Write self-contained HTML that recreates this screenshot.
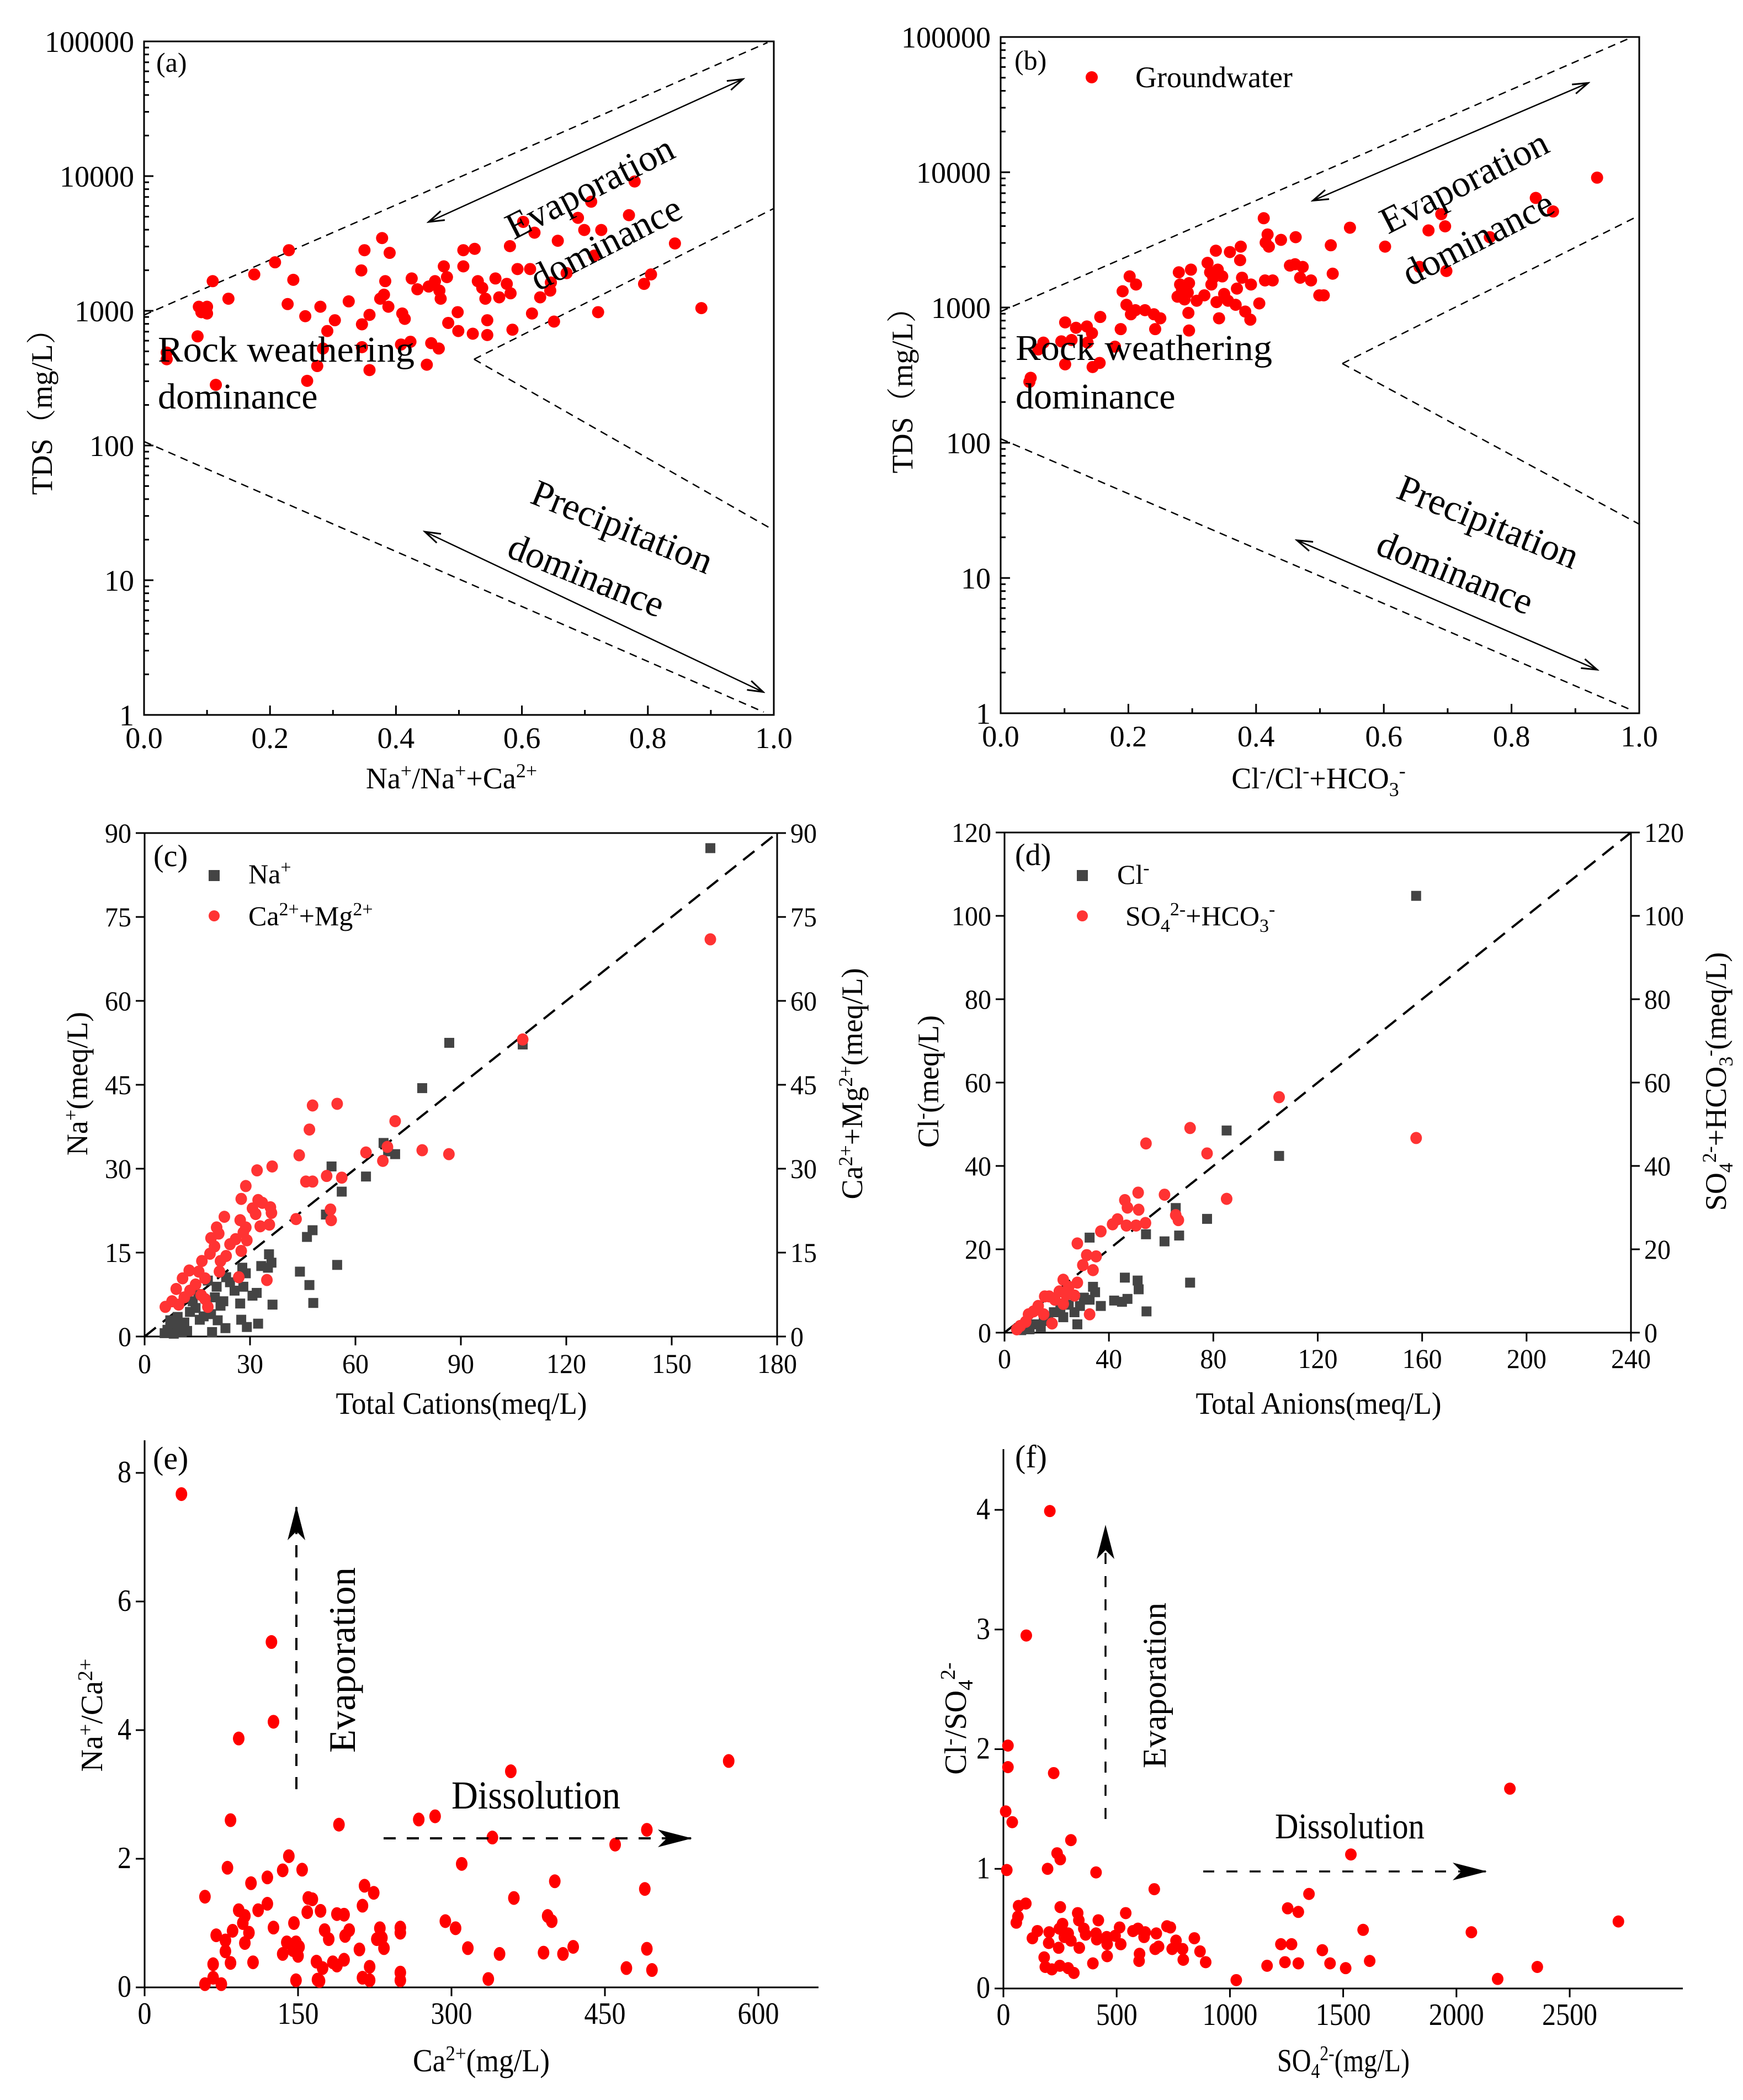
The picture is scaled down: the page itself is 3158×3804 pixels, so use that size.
<!DOCTYPE html>
<html><head><meta charset="utf-8"><title>Hydrochemistry charts</title>
<style>
html,body{margin:0;padding:0;background:#fff;}
svg{display:block;}
svg text{font-family:"Liberation Serif","DejaVu Serif","Noto Serif CJK SC",serif;fill:#000;}
</style></head>
<body>
<svg id="chart" xmlns="http://www.w3.org/2000/svg" width="3158" height="3804" viewBox="0 0 3158 3804" font-family="Liberation Serif, DejaVu Serif, Noto Serif CJK SC, serif">
<defs>
<marker id="chev" markerWidth="34" markerHeight="24" refX="30" refY="12" orient="auto-start-reverse" markerUnits="userSpaceOnUse"><path d="M2,3 L30,12 L2,21" fill="none" stroke="#000" stroke-width="3"/></marker>
<marker id="stealth" markerWidth="64" markerHeight="40" refX="60" refY="20" orient="auto" markerUnits="userSpaceOnUse"><path d="M0,4 L62,20 L0,36 L16,20 Z" fill="#000"/></marker>
</defs>
<rect x="0" y="0" width="3158" height="3804" fill="#fff"/>
<g id="layer"></g>

<!-- Panel a static text -->
<text x="283" y="130" font-size="50">(a)</text>
<text transform="translate(1068,338) rotate(-27)" y="24" text-anchor="middle" font-size="68">Evaporation</text>
<text transform="translate(1097,439) rotate(-27)" y="24" text-anchor="middle" font-size="68">dominance</text>
<text x="286" y="655" font-size="66" textLength="465" lengthAdjust="spacingAndGlyphs">Rock weathering</text>
<text x="286" y="740" font-size="66">dominance</text>
<text transform="translate(1128,953) rotate(22)" y="24" text-anchor="middle" font-size="68">Precipitation</text>
<text transform="translate(1063,1041) rotate(22)" y="24" text-anchor="middle" font-size="68">dominance</text>
<text transform="translate(94,733) rotate(-90)" text-anchor="middle" font-size="54">TDS（mg/L）</text>
<text x="818" y="1428" text-anchor="middle" font-size="54">Na<tspan dy="-20" font-size="36">+</tspan><tspan dy="20">/Na</tspan><tspan dy="-20" font-size="36">+</tspan><tspan dy="20">+Ca</tspan><tspan dy="-20" font-size="36">2+</tspan></text>

<!-- Panel b static text -->
<text x="1838" y="126" font-size="50">(b)</text>
<circle cx="1978" cy="140" r="11" fill="#ff0000"/>
<text x="2057" y="158" font-size="54">Groundwater</text>
<text transform="translate(2652,328) rotate(-27)" y="24" text-anchor="middle" font-size="68">Evaporation</text>
<text transform="translate(2677,430) rotate(-27)" y="24" text-anchor="middle" font-size="68">dominance</text>
<text x="1840" y="652" font-size="66" textLength="465" lengthAdjust="spacingAndGlyphs">Rock weathering</text>
<text x="1840" y="740" font-size="66">dominance</text>
<text transform="translate(2697,944) rotate(22)" y="24" text-anchor="middle" font-size="68">Precipitation</text>
<text transform="translate(2637,1036) rotate(22)" y="24" text-anchor="middle" font-size="68">dominance</text>
<text transform="translate(1653,694) rotate(-90)" text-anchor="middle" font-size="54">TDS（mg/L）</text>
<text x="2389" y="1428" text-anchor="middle" font-size="54">Cl<tspan dy="-20" font-size="36">-</tspan><tspan dy="20">/Cl</tspan><tspan dy="-20" font-size="36">-</tspan><tspan dy="20">+HCO</tspan><tspan dy="14" font-size="36">3</tspan><tspan dy="-34" font-size="36">-</tspan></text>

<!-- Panel c static text -->
<text x="278" y="1569" font-size="56">(c)</text>
<rect x="378" y="1576" width="20" height="20" fill="#444"/>
<text x="450" y="1600" font-size="50">Na<tspan dy="-18" font-size="34">+</tspan></text>
<circle cx="388" cy="1659" r="10" fill="#ff3333"/>
<text x="450" y="1676" font-size="50">Ca<tspan dy="-18" font-size="34">2+</tspan><tspan dy="18">+Mg</tspan><tspan dy="-18" font-size="34">2+</tspan></text>
<text transform="translate(158,1963) rotate(-90)" text-anchor="middle" font-size="54">Na<tspan dy="-18" font-size="36">+</tspan><tspan dy="18">(meq/L)</tspan></text>
<text transform="translate(1562,1963) rotate(-90)" text-anchor="middle" font-size="54">Ca<tspan dy="-18" font-size="36">2+</tspan><tspan dy="18">+Mg</tspan><tspan dy="-18" font-size="36">2+</tspan><tspan dy="18">(meq/L)</tspan></text>
<text x="836" y="2561" text-anchor="middle" font-size="56" textLength="455" lengthAdjust="spacingAndGlyphs">Total Cations(meq/L)</text>

<!-- Panel d static text -->
<text x="1839" y="1567" font-size="56">(d)</text>
<rect x="1951" y="1576" width="20" height="20" fill="#444"/>
<text x="2024" y="1601" font-size="50">Cl<tspan dy="-18" font-size="34">-</tspan></text>
<circle cx="1961" cy="1659" r="10" fill="#ff3333"/>
<text x="2039" y="1676" font-size="50">SO<tspan dy="12" font-size="34">4</tspan><tspan dy="-30" font-size="34">2-</tspan><tspan dy="18">+HCO</tspan><tspan dy="12" font-size="34">3</tspan><tspan dy="-30" font-size="34">-</tspan></text>
<text transform="translate(1700,1959) rotate(-90)" text-anchor="middle" font-size="54">Cl<tspan dy="-18" font-size="36">-</tspan><tspan dy="18">(meq/L)</tspan></text>
<text transform="translate(3127,1959) rotate(-90)" text-anchor="middle" font-size="54">SO<tspan dy="12" font-size="36">4</tspan><tspan dy="-30" font-size="36">2-</tspan><tspan dy="18">+HCO</tspan><tspan dy="12" font-size="36">3</tspan><tspan dy="-30" font-size="36">-</tspan><tspan dy="18">(meq/L)</tspan></text>
<text x="2389" y="2561" text-anchor="middle" font-size="56" textLength="445" lengthAdjust="spacingAndGlyphs">Total Anions(meq/L)</text>

<!-- Panel e static text -->
<text x="277" y="2661" font-size="58">(e)</text>
<text transform="translate(185,3107) rotate(-90)" text-anchor="middle" font-size="56">Na<tspan dy="-18" font-size="38">+</tspan><tspan dy="18">/Ca</tspan><tspan dy="-18" font-size="38">2+</tspan></text>
<text x="872" y="3752" text-anchor="middle" font-size="58" textLength="248" lengthAdjust="spacingAndGlyphs">Ca<tspan dy="-20" font-size="38">2+</tspan><tspan dy="20">(mg/L)</tspan></text>
<text transform="translate(643,3007) rotate(-90)" text-anchor="middle" font-size="68" textLength="336" lengthAdjust="spacingAndGlyphs">Evaporation</text>
<text x="818" y="3276" font-size="72" textLength="306" lengthAdjust="spacingAndGlyphs">Dissolution</text>

<!-- Panel f static text -->
<text x="1839" y="2658" font-size="58">(f)</text>
<text transform="translate(1750,3113) rotate(-90)" text-anchor="middle" font-size="56">Cl<tspan dy="-18" font-size="38">-</tspan><tspan dy="18">/SO</tspan><tspan dy="12" font-size="38">4</tspan><tspan dy="-32" font-size="38">2-</tspan></text>
<text x="2434" y="3752" text-anchor="middle" font-size="58" textLength="240" lengthAdjust="spacingAndGlyphs">SO<tspan dy="12" font-size="38">4</tspan><tspan dy="-32" font-size="38">2-</tspan><tspan dy="20">(mg/L)</tspan></text>
<text transform="translate(2112,3053) rotate(-90)" text-anchor="middle" font-size="60" textLength="300" lengthAdjust="spacingAndGlyphs">Evaporation</text>
<text x="2310" y="3330" font-size="66" textLength="271" lengthAdjust="spacingAndGlyphs">Dissolution</text>
</svg>

<script>
// ---------- Panel (a) data ----------
const aRatio = [.036,.036,.085,.087,.091,.100,.100,.109,.114,.134,.175,.208,.228,.230,.237,.256,.259,.275,.280,.284,.291,.303,.325,.345,.346,.346,.350,.358,.358,.375,.378,.381,.383,.388,.390,.408,.410,.414,.423,.425,.434,.449,.452,.456,.462,.468,.469,.471,.476,.481,.483,.498,.499,.507,.507,.522,.525,.530,.537,.542,.545,.545,.558,.564,.576,.581,.582,.585,.593,.602,.613,.616,.620,.629,.645,.646,.651,.657,.671,.689,.699,.710,.715,.721,.726,.770,.779,.794,.805,.843,.885];
const aTDS = [437,490,646,1072,977,955,1072,1660,282,1230,1862,2291,1122,2818,1698,912,302,389,1072,525,708,851,1175,1995,794,537,2818,933,363,1230,3467,1318,1660,1072,2692,562,955,871,589,1738,1445,398,1514,575,1660,525,1413,1230,2138,1778,813,977,708,2138,2818,676,2884,1660,1479,1230,851,661,1738,1259,1585,3020,1349,724,2042,4571,2042,955,3802,1259,1413,1622,832,3311,1905,4898,3981,6457,2570,977,3981,5129,9120,1585,1862,3162,1047];
// ---------- Panel (b) data ----------
const bRatio = [.045,.047,.059,.067,.095,.101,.101,.111,.118,.135,.136,.143,.144,.155,.156,.179,.188,.191,.197,.202,.204,.211,.212,.226,.240,.242,.250,.279,.281,.277,.284,.288,.293,.295,.294,.295,.298,.307,.319,.324,.328,.330,.333,.337,.338,.340,.342,.347,.350,.356,.359,.368,.370,.375,.376,.378,.383,.391,.392,.405,.412,.414,.415,.418,.420,.426,.439,.453,.461,.462,.469,.473,.486,.499,.506,.517,.520,.547,.602,.656,.670,.690,.696,.698,.766,.838,.865,.934];
const bTDS = [282,302,490,550,562,776,380,575,708,724,550,646,363,389,851,513,692,1318,1047,1698,891,955,1479,955,891,692,832,1820,1479,1202,1349,1148,1288,1514,912,676,1905,1122,1230,2138,1820,1479,1660,2630,1096,1905,832,1698,1259,1122,2570,1047,1380,2239,2818,1660,933,813,1479,1072,4571,1585,3020,3467,2818,1585,3162,2042,2089,3311,1660,1995,1585,1230,1230,2884,1778,3890,2818,1995,3715,4898,3981,1862,3311,6457,5129,9120];
const gibbsTickValues = [1,10,100,1000,10000,100000];
const gibbsTickLabels = ['1','10','100','1000','10000','100000'];
const ratioTicks = [0,0.2,0.4,0.6,0.8,1.0];
const ratioTickLabels = ['0.0','0.2','0.4','0.6','0.8','1.0'];
// ---------- Panel (c) data ----------
const cTotalNa = [161,86.7,107.6,79,68,71.3,69.3,63,53.2,56.1,51.6,47.8,46.2,44.2,46.9,48,54.8,35.4,36.1,33.2,35.1,36.4,32.3,31.9,30.7,28.8,27.8,28.1,27.2,29.1,27.5,25.6,24.3,23.2,22.4,21.6,20.5,23,19.2,20.8,18.9,16.8,15.7,14.5,12.9,12.1,11.3,9.7,8.1,6.5,5.7,7.3,9.4,13.7,15.3,18,10.6,8.3,20];
const cNa = [87.3,52.5,52.2,44.4,34.6,32.6,33.1,28.6,30.4,25.9,21.8,19.0,17.8,11.6,9.2,6.0,12.8,14.7,13.2,12.6,12.3,5.7,2.3,7.8,7.3,11.3,12.3,8.9,5.9,1.7,3.0,8.2,9.7,10.6,6.3,5.5,8.9,1.5,0.8,2.9,4.0,3.6,3.0,5.1,4.4,1.0,2.5,2.1,1.5,1.2,0.6,2.9,3.5,6.3,7.6,10,0.8,0.5,7];
const cTotalCaMg = [161,107.6,86.6,79,71.3,69.1,67.8,63,54.8,47.8,46.9,44,45.9,47.8,51.8,56.1,52.9,53.1,43.1,36.3,32,28.8,27.5,32.3,33.5,35.8,36.1,30.7,31.6,35.5,32.9,27.2,28.8,28.1,29.1,25.9,24.3,22.7,20.5,21.1,18.9,19.9,18.6,21.6,23.2,27.5,26.8,34.8,21.3,16.3,15.4,17.2,12.7,10.8,14.5,12.9,9,11.3,16.1,17.2,18,7.8,5.9,9.7];
const cCaMg = [71,53.1,32.6,33.3,38.5,33.9,31.4,32.9,41.6,41.3,37,32.4,27.7,27.7,28.7,28.4,22.7,20.8,21,30.4,29.7,26.9,24.6,24.4,23.9,23.1,22.1,22.9,21.9,20,19.7,20.8,19.5,18.6,17.2,17.4,16.5,21.4,19.5,18.4,17.6,16.1,14.8,13.5,14.4,15.3,10.6,10.1,11.6,13.5,11.6,10.4,11.8,10.4,9.3,8.2,8.5,7,7.4,6.7,5.3,6.3,5.3,5.7];
const cXTicks = [0,30,60,90,120,150,180];
const cYTicks = [0,15,30,45,60,75,90];
// ---------- Panel (d) data ----------
const dTotalCl = [157.7,85.1,105.2,77.6,65.6,66.9,61.3,54.2,71.1,54.4,32.6,46.1,51,51.4,47.1,45,42,36.9,33.9,34.7,32.6,30.4,27.9,26.8,24.6,22.5,21.4,18.9,16.7,13.9,11.8,9.6,6.4,15,28.9];
const dCl = [104.8,48.5,42.4,27.3,29.9,23.3,21.9,23.6,12,5.1,22.8,13.2,12.5,10.4,8.1,7.4,7.7,6.4,11,9.7,7.9,8.4,2,4.9,6.7,3.7,5.9,4.9,3.3,1.3,2,0.8,0.6,2.8,6.4];
const dTotalSH = [157.7,105.2,71.1,77.6,85.1,54.2,51.2,46.1,47.1,51.4,61.3,65.6,66.6,54,50.4,46.7,43.3,41.4,36.9,27.9,35.1,31.5,30,33.9,32.6,27.9,22.5,24.6,21,19.3,17.1,15.4,18.2,12.9,11.1,9.2,8.1,6,4.7,26.8,22.5,15,23.6];
const dSH = [46.7,56.5,49.1,43,32.1,45.4,33.6,31.8,30,29.5,33.1,28.2,27,26.3,25.7,25.7,27.2,26,24.3,21.4,18.3,18.6,16.2,15,4.4,12,12.7,11,9.9,7.9,8.7,8.7,2.2,6.4,5.1,4.4,2.6,1.6,0.8,8.9,6.9,4.4,9.1];
const dXTicks = [0,40,80,120,160,200,240];
const dYTicks = [0,20,40,60,80,100,120];
// ---------- Panel (e) data ----------
const eCa = [36,124,126,92,358,571,84,190,268,284,340,491,460,310,141,135,154,81,120,104,59,215,224,160,164,159,172,120,111,92,98,96,213,188,195,401,361,489,294,304,394,398,146,126,230,250,250,200,176,196,86,102,70,79,98,180,227,232,234,139,148,151,145,135,150,210,316,419,491,79,347,390,409,106,84,67,168,184,195,188,174,220,250,471,496,67,59,75,148,169,171,213,220,250,336];
const eRatio = [7.67,5.37,4.13,3.87,3.36,3.52,2.6,2.53,2.61,2.66,2.33,2.45,2.22,1.92,2.04,1.82,1.83,1.86,1.71,1.62,1.41,1.58,1.47,1.39,1.37,1.17,1.19,1.30,1.20,1.20,1.11,1.00,1.27,1.14,1.13,1.65,1.39,1.53,1.03,0.92,1.11,1.03,1.00,0.93,0.92,0.93,0.85,0.89,0.89,0.80,0.88,0.85,0.81,0.73,0.69,0.75,0.75,0.77,0.61,0.70,0.70,0.63,0.58,0.52,0.49,0.59,0.61,0.63,0.60,0.56,0.52,0.54,0.52,0.39,0.38,0.36,0.40,0.39,0.43,0.34,0.30,0.32,0.23,0.30,0.27,0.15,0.05,0.05,0.11,0.12,0.10,0.15,0.11,0.11,0.13];
const eXTicks = [0,150,300,450,600];
const eYTicks = [0,2,4,6,8];
// ---------- Panel (f) data ----------
const fSO4 = [205,101,20,20,222,10,39,298,237,251,195,15,409,1534,2236,2715,666,1349,1255,1302,1588,2066,67,99,64,57,251,328,333,540,419,128,150,202,200,244,261,247,286,298,269,335,355,363,409,412,456,458,493,513,518,572,594,621,626,601,599,675,670,685,722,737,762,745,791,794,843,868,893,458,395,180,185,214,249,286,311,1028,1164,1225,1243,1272,1302,1408,1442,1511,1617,2182,2357];
const fRatio = [3.99,2.95,2.03,1.85,1.80,1.48,1.39,1.24,1.13,1.08,1.00,0.99,0.97,1.12,1.67,0.56,0.83,0.79,0.67,0.64,0.49,0.47,0.69,0.71,0.60,0.55,0.68,0.63,0.57,0.63,0.57,0.42,0.48,0.47,0.38,0.34,0.54,0.50,0.46,0.40,0.43,0.34,0.50,0.45,0.46,0.41,0.43,0.37,0.44,0.51,0.37,0.48,0.50,0.43,0.47,0.29,0.23,0.46,0.33,0.35,0.52,0.51,0.40,0.33,0.33,0.24,0.42,0.31,0.22,0.27,0.21,0.26,0.18,0.16,0.19,0.17,0.13,0.07,0.19,0.37,0.22,0.37,0.21,0.32,0.21,0.17,0.23,0.08,0.18];
const fXTicks = [0,500,1000,1500,2000,2500];
const fYTicks = [0,1,2,3,4];

// ---------- drawing ----------
const NS = 'http://www.w3.org/2000/svg';
const layer = document.getElementById('layer');
function mk(tag, attrs) {
  const e = document.createElementNS(NS, tag);
  for (const k in attrs) e.setAttribute(k, attrs[k]);
  layer.appendChild(e);
  return e;
}
function ln(x1, y1, x2, y2, w, dash, name) {
  const e = mk('line', {x1: x1, y1: y1, x2: x2, y2: y2, stroke: '#000', 'stroke-width': w});
  if (dash) e.setAttribute('stroke-dasharray', dash);
  
  
  return e;
}
function txt(x, y, s, size, anchor, name, tl) {
  const t = mk('text', {x: x, y: y, 'font-size': size, 'text-anchor': anchor});
  if (tl) { t.setAttribute('textLength', tl); t.setAttribute('lengthAdjust', 'spacingAndGlyphs'); }
  t.textContent = s;
  
  
  return t;
}

// ===== Gibbs panels (a), (b) =====
function gibbs(P, key, ratios, tds) {
  const X = v => P.x0 + v * (P.x1 - P.x0);
  const Y = v => P.yB - Math.log10(v) / 5 * (P.yB - P.yT);
  const box = mk('rect', {x: P.x0, y: P.yT, width: P.x1 - P.x0, height: P.yB - P.yT, fill: 'none', stroke: '#000', 'stroke-width': 3});
  
  
  for (let i = 0; i < gibbsTickValues.length; i++) {
    const y = Y(gibbsTickValues[i]);
    ln(P.x0, y, P.x0 + 17, y, 3, null, key + '-y-tick');
    txt(P.x0 - 18, y + 19, gibbsTickLabels[i], 54, 'end', key + '-y-tick-label');
    if (i < gibbsTickValues.length - 1) {
      for (let k = 2; k <= 9; k++) {
        const ym = Y(gibbsTickValues[i] * k);
        ln(P.x0, ym, P.x0 + 9, ym, 3, null, key + '-y-minor-tick');
      }
    }
  }
  for (let i = 0; i < ratioTicks.length; i++) {
    const x = X(ratioTicks[i]);
    ln(x, P.yB, x, P.yB - 17, 3, null, key + '-x-tick');
    txt(x, P.yB + 60, ratioTickLabels[i], 54, 'middle', key + '-x-tick-label');
    if (i < ratioTicks.length - 1) {
      const xm = X((ratioTicks[i] + ratioTicks[i + 1]) / 2);
      ln(xm, P.yB, xm, P.yB - 9, 3, null, key + '-x-minor-tick');
    }
  }
  ln(X(0), Y(P.up0), X(P.upEndX), Y(P.upEnd), 2.5, '14,10', key + '-upper-boundary');
  ln(X(0), Y(P.lo0), X(P.loEndX), Y(P.loEnd), 2.5, '14,10', key + '-lower-boundary');
  ln(X(P.vX), Y(P.vY), X(1), Y(P.vUp), 2.5, '14,10', key + '-inner-upper-boundary');
  ln(X(P.vX), Y(P.vY), X(1), Y(P.vDown), 2.5, '14,10', key + '-inner-lower-boundary');
  const a1 = ln(X(P.ar1[0]), Y(P.ar1[1]), X(P.ar1[2]), Y(P.ar1[3]), 2.5, null, key + '-evaporation-arrow');
  a1.setAttribute('marker-start', 'url(#chev)');
  a1.setAttribute('marker-end', 'url(#chev)');
  const a2 = ln(X(P.ar2[0]), Y(P.ar2[1]), X(P.ar2[2]), Y(P.ar2[3]), 2.5, null, key + '-precipitation-arrow');
  a2.setAttribute('marker-start', 'url(#chev)');
  a2.setAttribute('marker-end', 'url(#chev)');
  for (let i = 0; i < ratios.length; i++) {
    const c = mk('circle', {cx: X(ratios[i]), cy: Y(tds[i]), r: 11, fill: '#ff0000'});
    
    
  }
}
gibbs({x0: 261, x1: 1402, yT: 75, yB: 1295, up0: 930, upEndX: 0.99, upEnd: 98000, lo0: 107, loEndX: 0.984, loEnd: 1.05,
  vX: 0.524, vY: 437, vUp: 5750, vDown: 23.5, ar1: [0.452, 4570, 0.951, 52500], ar2: [0.446, 22.9, 0.983, 1.48]}, 'a', aRatio, aTDS);
gibbs({x0: 1813, x1: 2970, yT: 67, yB: 1292, up0: 933, upEndX: 0.985, upEnd: 98000, lo0: 107, loEndX: 0.985, loEnd: 1.07,
  vX: 0.535, vY: 385, vUp: 4790, vDown: 25, ar1: [0.489, 6170, 0.92, 45700], ar2: [0.464, 19, 0.934, 2.1]}, 'b', bRatio, bTDS);

// ===== Linear panels =====
function linear(P, key, xTicks, yTicks, series, rightAxis, box, ellipseRy, tickFont, charW) {
  const X = v => P.x0 + (v - 0) / P.xMax * (P.x1 - P.x0);
  const Y = v => P.y0 - v / P.yMax * (P.y0 - P.y1);
  if (box) {
    const r = mk('rect', {x: P.x0, y: P.y1, width: P.x1 - P.x0, height: P.y0 - P.y1, fill: 'none', stroke: '#000', 'stroke-width': 3});
    
    
  } else {
    ln(P.x0, P.yTop, P.x0, P.y0, 3, null, key + '-y-axis-line');
    ln(P.x0, P.y0, P.xEnd, P.y0, 3, null, key + '-x-axis-line');
  }
  for (let i = 0; i < xTicks.length; i++) {
    const x = X(xTicks[i]);
    ln(x, P.y0, x, P.y0 + 16, 3, null, key + '-x-tick');
    const s = String(xTicks[i]);
    txt(x, P.y0 + P.xLabDy, s, tickFont, 'middle', key + '-x-tick-label', s.length * charW);
  }
  for (let i = 0; i < yTicks.length; i++) {
    const y = Y(yTicks[i]);
    ln(P.x0 - 16, y, P.x0, y, 3, null, key + '-y-tick');
    const s = String(yTicks[i]);
    txt(P.x0 - 24, y + 17, s, tickFont, 'end', key + '-y-tick-label', s.length * charW);
    if (rightAxis) {
      ln(P.x1, y, P.x1 + 16, y, 3, null, key + '-right-y-tick');
      txt(P.x1 + 24, y + 17, s, tickFont, 'start', key + '-right-y-tick-label', s.length * charW);
    }
  }
  if (P.diag) {
    ln(X(0), Y(0), X(P.xMax), Y(P.xMax / 2), 4, '26,16', key + '-reference-line');
  }
  for (const S of series) {
    for (let i = 0; i < S.x.length; i++) {
      const cx = X(S.x[i]), cy = Y(S.y[i]);
      let m;
      if (S.shape === 'square') {
        m = mk('rect', {x: cx - 9, y: cy - 9, width: 18, height: 18, fill: S.color});
      } else {
        m = mk('ellipse', {cx: cx, cy: cy, rx: 10.5, ry: ellipseRy, fill: S.color});
      }
      
      
    }
  }
}
linear({x0: 262, x1: 1408, y0: 2421, y1: 1509, xMax: 180, yMax: 90, xLabDy: 66, diag: true}, 'c', cXTicks, cYTicks,
  [{x: cTotalNa, y: cNa, shape: 'square', color: '#444444', name: 'c-na-point'},
   {x: cTotalCaMg, y: cCaMg, shape: 'circle', color: '#ff3333', name: 'c-camg-point'}], true, true, 11, 50, 24);
linear({x0: 1820, x1: 2955, y0: 2414, y1: 1508, xMax: 240, yMax: 120, xLabDy: 64, diag: true}, 'd', dXTicks, dYTicks,
  [{x: dTotalCl, y: dCl, shape: 'square', color: '#444444', name: 'd-cl-point'},
   {x: dTotalSH, y: dSH, shape: 'circle', color: '#ff3333', name: 'd-so4hco3-point'}], true, true, 11, 50, 24);
linear({x0: 262, x1: 1374, y0: 3600, y1: 2668, xMax: 600, yMax: 8, xLabDy: 66, yTop: 2609, xEnd: 1483}, 'e', eXTicks, eYTicks,
  [{x: eCa, y: eRatio, shape: 'circle', color: '#ff0000', name: 'e-sample-point'}], false, false, 12.5, 56, 25);
linear({x0: 1818, x1: 2844, y0: 3602, y1: 2735, xMax: 2500, yMax: 4, xLabDy: 66, yTop: 2625, xEnd: 3049}, 'f', fXTicks, fYTicks,
  [{x: fSO4, y: fRatio, shape: 'circle', color: '#ff0000', name: 'f-sample-point'}], false, false, 11, 56, 25);

// annotation arrows for (e) and (f)
const ev1 = ln(537, 3241, 537, 2730, 4, '22,20', 'e-evaporation-arrow');
ev1.setAttribute('marker-end', 'url(#stealth)');
const ds1 = ln(695, 3330, 1252, 3330, 4, '22,20', 'e-dissolution-arrow');
ds1.setAttribute('marker-end', 'url(#stealth)');
const ev2 = ln(2003, 3295, 2003, 2764, 3.5, '20,22', 'f-evaporation-arrow');
ev2.setAttribute('marker-end', 'url(#stealth)');
const ds2 = ln(2180, 3390, 2692, 3390, 3.5, '20,22', 'f-dissolution-arrow');
ds2.setAttribute('marker-end', 'url(#stealth)');
</script>
</body></html>
